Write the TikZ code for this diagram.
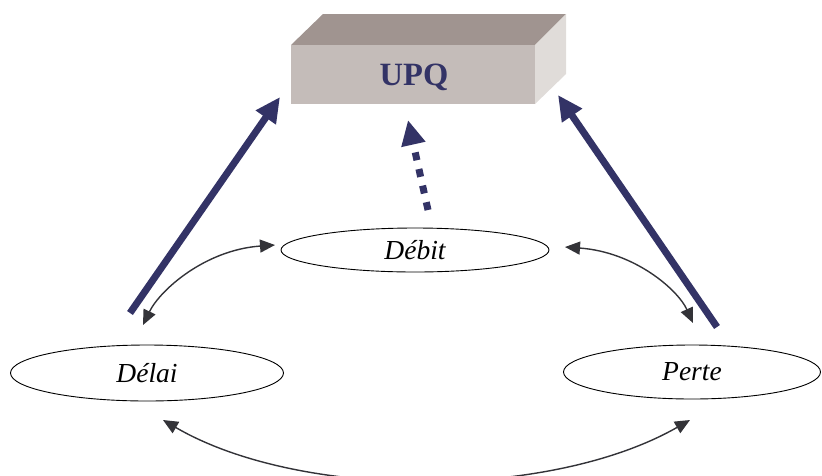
\documentclass[tikz,border=0pt]{standalone}
\usepackage{fontspec}
\setmainfont{Liberation Serif}
\usetikzlibrary{arrows.meta,shapes.geometric}
\definecolor{navy}{RGB}{51,51,102}
\definecolor{linkgray}{RGB}{51,51,56}
\definecolor{boxtop}{RGB}{160,148,144}
\definecolor{boxfront}{RGB}{196,188,185}
\definecolor{boxside}{RGB}{224,220,217}
\tikzset{
  metric/.style={draw=black, line width=0.9pt, ellipse, inner sep=0pt,
    font=\fontsize{27.5}{31}\selectfont\itshape},
  influence/.style={draw=navy, line width=7pt,
    -{Triangle[length=25pt,width=23pt]}},
  weak/.style={draw=navy, line width=7pt, dash pattern=on 8pt off 9pt,
    -{Triangle[length=25pt,width=23pt]}},
  tradeoff/.style={draw=linkgray, line width=1.4pt,
    {Triangle[length=15pt,width=13pt]}-{Triangle[length=15pt,width=13pt]}}
}
\begin{document}
\begin{tikzpicture}[x=1pt,y=-1pt]
\useasboundingbox (0,0) rectangle (822,475);

% 3D block
\fill[boxtop] (291,45) -- (323,14) -- (566,14) -- (535,45) -- cycle;
\fill[boxside] (535,45) -- (566,14) -- (566,74) -- (535,104) -- cycle;
\fill[boxfront] (291,45) rectangle (535,104);
\node[font=\fontsize{32.5}{36}\selectfont\bfseries, text=navy] (upq) at (414,77) {UPQ};

% metric ellipses
\node[metric, minimum width=268pt, minimum height=44pt] (deb) at (415,250) {Débit};
\node[metric, minimum width=273pt, minimum height=56pt] (del) at (147,373) {Délai};
\node[metric, minimum width=257pt, minimum height=54pt] (per) at (692,372) {Perte};

% arrow end points
\coordinate (dl0) at (130,313);
\coordinate (ul) at (280,97);
\coordinate (pr0) at (717,327);
\coordinate (ur) at (558,95);
\coordinate (db0) at (428,210);
\coordinate (ud) at (408,120);
\coordinate (dw) at (275,245);
\coordinate (dn) at (143,325);
\coordinate (de) at (565,247);
\coordinate (pn) at (693,323);
\coordinate (ds) at (163,420);
\coordinate (ps) at (690,420);

% influence on UPQ
\draw[influence] (dl0) -- (ul);
\draw[influence] (pr0) -- (ur);
\draw[weak] (db0) -- (ud);

% trade-offs between metrics
\draw[tradeoff] (dw) .. controls (205,250) and (160,290) .. (dn);
\draw[tradeoff] (de) .. controls (635,252) and (678,290) .. (pn);
\draw[tradeoff] (ds) .. controls (300,500) and (550,500) .. (ps);
\end{tikzpicture}
\end{document}
